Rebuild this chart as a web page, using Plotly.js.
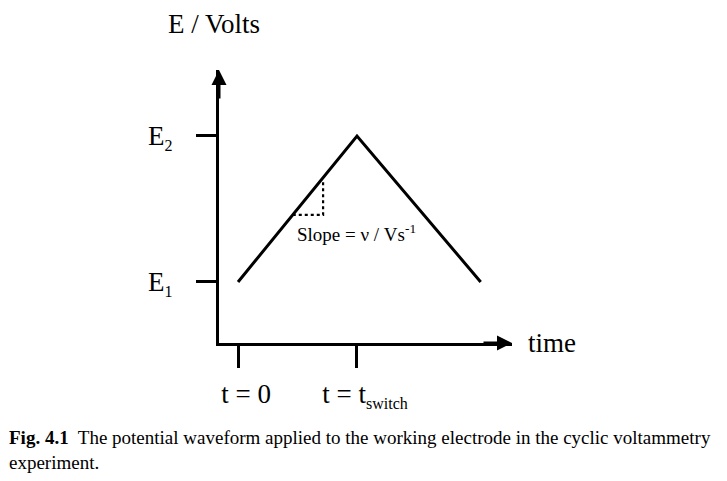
<!DOCTYPE html>
<html>
<head>
<meta charset="utf-8">
<script src="https://cdn.plot.ly/plotly-3.0.1.min.js"></script>
<style>html,body{margin:0;padding:0;background:#fff;}#chart{width:727px;height:481px;}</style>
</head>
<body>
<div id="chart"></div>
<script>
// Waveform: time in units of t_switch, potential with E1 = 0 and E2 = 1
const timeVals = [0, 1, 2.04];
const potentialVals = [0, 1, 0];
// Dotted slope triangle
const slopeTimes = [0.46, 0.715, 0.715];
const slopePotentials = [0.46, 0.46, 0.69];
// Tick labels
const xTickVals = [0, 1];
const xTickText = ['t = 0', 't = t<sub><span style="font-size:16px">switch</span></sub>'];
const yTickVals = [0, 1];
const yTickText = ['E<sub><span style="font-size:16px">1</span></sub>', 'E<sub><span style="font-size:16px">2</span></sub>'];

const serif = 'Liberation Serif, Times New Roman, serif';
const xRange = [-0.16, 2.303];
const yRange = [-0.418, 1.452];

const traces = [
  {x: timeVals, y: potentialVals, mode: 'lines', line: {color: '#000', width: 3}, hoverinfo: 'skip'},
  {x: slopeTimes, y: slopePotentials, mode: 'lines', line: {color: '#000', width: 2.2, dash: 'dot'}, hoverinfo: 'skip'}
];

const layout = {
  width: 727, height: 481,
  margin: {l: 219, r: 215, t: 70, b: 138},
  paper_bgcolor: '#fff', plot_bgcolor: '#fff',
  showlegend: false,
  xaxis: {
    range: xRange, showgrid: false, zeroline: false,
    showline: true, linecolor: '#000', linewidth: 3,
    ticks: 'outside', ticklen: 22, tickwidth: 3, tickcolor: '#000',
    tickvals: xTickVals, ticktext: xTickText,
    ticklabelshift: 8, ticklabelstandoff: 3,
    tickfont: {family: serif, size: 27, color: '#000'}
  },
  yaxis: {
    range: yRange, showgrid: false, zeroline: false,
    showline: true, linecolor: '#000', linewidth: 3,
    ticks: 'outside', ticklen: 20, tickwidth: 3, tickcolor: '#000',
    tickvals: yTickVals, ticktext: yTickText,
    ticklabelstandoff: 18,
    tickfont: {family: serif, size: 27, color: '#000'}
  },
  annotations: [
    {x: xRange[1], y: yRange[0], xref: 'x', yref: 'y', ax: -30, ay: 0, text: '', showarrow: true,
     arrowhead: 2, arrowsize: 1, arrowwidth: 3, arrowcolor: '#000', standoff: 0},
    {x: xRange[0], y: yRange[1], xref: 'x', yref: 'y', ax: 0, ay: 30, text: '', showarrow: true,
     arrowhead: 2, arrowsize: 1, arrowwidth: 3, arrowcolor: '#000', standoff: 0},
    {x: -0.017, y: 1.168, xref: 'paper', yref: 'paper', xanchor: 'center', yanchor: 'middle',
     text: 'E / Volts', showarrow: false, font: {family: serif, size: 27, color: '#000'}},
    {x: 1.048, y: 0, xref: 'paper', yref: 'paper', xanchor: 'left', yanchor: 'middle',
     text: 'time', showarrow: false, font: {family: serif, size: 27, color: '#000'}},
    {x: 0.479, y: 0.336, xref: 'x', yref: 'y', xanchor: 'left', yanchor: 'middle',
     text: 'Slope = ν / Vs<sup>-1</sup>', showarrow: false, font: {family: serif, size: 19, color: '#000'}},
    {x: -0.7235, y: -0.392, xref: 'paper', yref: 'paper', xanchor: 'left', yanchor: 'middle', align: 'left',
     text: '<b>Fig. 4.1</b>\u00a0 The potential waveform applied to the working electrode in the cyclic voltammetry<br>experiment.',
     showarrow: false, font: {family: serif, size: 19, color: '#000'}}
  ]
};

Plotly.newPlot('chart', traces, layout, {displayModeBar: false, staticPlot: true});
</script>
</body>
</html>
